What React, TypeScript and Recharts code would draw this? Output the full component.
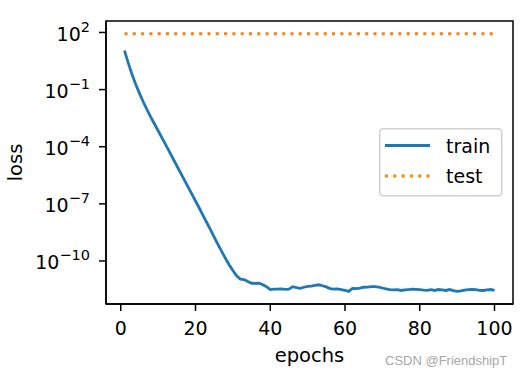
import React from "react";
import { LineChart, Line, XAxis, YAxis, Legend, ReferenceArea, Label } from "recharts";

const epochs = [
  1, 2, 3, 4, 5, 6, 7, 8, 9, 10, 11, 12, 13, 14, 15, 16, 17, 18, 19, 20,
  21, 22, 23, 24, 25, 26, 27, 28, 29, 30, 31, 32, 33, 34, 35, 36, 37, 38, 39, 40,
  41, 42, 43, 44, 45, 46, 47, 48, 49, 50, 51, 52, 53, 54, 55, 56, 57, 58, 59, 60,
  61, 62, 63, 64, 65, 66, 67, 68, 69, 70, 71, 72, 73, 74, 75, 76, 77, 78, 79, 80,
  81, 82, 83, 84, 85, 86, 87, 88, 89, 90, 91, 92, 93, 94, 95, 96, 97, 98, 99, 100,
];

const trainLoss = [
  11.2, 2.51, 0.631, 0.191, 6.31e-2, 2.3e-2, 9.0e-3, 3.7e-3, 1.6e-3, 6.9e-4,
  3.0e-4, 1.29e-4, 5.5e-5, 2.34e-5, 1.0e-5, 4.27e-6, 1.82e-6, 7.76e-7, 3.31e-7, 1.41e-7,
  6.03e-8, 2.51e-8, 1.05e-8, 4.37e-9, 1.78e-9, 7.41e-10, 3.16e-10, 1.38e-10, 6.31e-11, 3.16e-11,
  1.66e-11, 1.12e-11, 1.05e-11, 8.32e-12, 6.76e-12, 6.61e-12, 6.76e-12, 5.62e-12, 4.47e-12, 3.16e-12,
  3.31e-12, 3.31e-12, 3.39e-12, 3.24e-12, 3.31e-12, 4.47e-12, 3.98e-12, 3.63e-12, 4.17e-12, 4.68e-12,
  4.79e-12, 5.25e-12, 5.62e-12, 5.01e-12, 4.37e-12, 3.55e-12, 3.31e-12, 3.39e-12, 3.16e-12, 2.82e-12,
  2.51e-12, 3.63e-12, 3.55e-12, 3.8e-12, 4.17e-12, 4.27e-12, 4.47e-12, 4.47e-12, 4.27e-12, 3.8e-12,
  3.39e-12, 3.16e-12, 3.02e-12, 3.09e-12, 2.82e-12, 3.02e-12, 3.16e-12, 3.31e-12, 3.24e-12, 3.16e-12,
  2.95e-12, 2.88e-12, 3.09e-12, 2.82e-12, 3.16e-12, 3.02e-12, 2.82e-12, 3.16e-12, 2.75e-12, 2.51e-12,
  2.69e-12, 2.95e-12, 3.16e-12, 3.24e-12, 3.09e-12, 2.88e-12, 2.82e-12, 3.02e-12, 3.16e-12, 2.82e-12,
];

const testLoss = [
  85.8, 85.8, 85.7, 85.7, 85.7, 85.6, 85.6, 85.6, 85.6, 85.6,
  85.6, 85.6, 85.6, 85.6, 85.6, 85.6, 85.6, 85.6, 85.6, 85.6,
  85.6, 85.6, 85.6, 85.6, 85.6, 85.6, 85.6, 85.6, 85.6, 85.6,
  85.6, 85.6, 85.6, 85.6, 85.6, 85.6, 85.6, 85.6, 85.6, 85.6,
  85.6, 85.6, 85.6, 85.6, 85.6, 85.6, 85.6, 85.6, 85.6, 85.6,
  85.6, 85.6, 85.6, 85.6, 85.6, 85.6, 85.6, 85.6, 85.6, 85.6,
  85.6, 85.6, 85.6, 85.6, 85.6, 85.6, 85.6, 85.6, 85.6, 85.6,
  85.6, 85.6, 85.6, 85.6, 85.6, 85.6, 85.6, 85.6, 85.6, 85.6,
  85.6, 85.6, 85.6, 85.6, 85.6, 85.6, 85.6, 85.6, 85.6, 85.6,
  85.6, 85.6, 85.6, 85.6, 85.6, 85.6, 85.6, 85.6, 85.6, 85.6,
];

const xTicks = [0, 20, 40, 60, 80, 100];
const yTicks = [1e2, 1e-1, 1e-4, 1e-7, 1e-10];
const xDomain = [-3.95, 104.95];
const yDomain = [5.5e-13, 400];

const data = epochs.map((e, i) => ({ epoch: e, train: trainLoss[i], test: testLoss[i] }));

const FONT = "DejaVu Sans";
const BLUE = "#1f77b4";
const ORANGE = "#ff7f0e";

const XTick = (props: any) => {
  const { x, y, payload } = props;
  return (
    <text x={x} y={y} dy={20} textAnchor="middle" fontFamily={FONT} fontSize={19} fill="#000">
      {payload.value}
    </text>
  );
};

const YTick = (props: any) => {
  const { x, y, payload } = props;
  const exp = Math.round(Math.log10(payload.value));
  const expStr = exp < 0 ? "\u2212" + Math.abs(exp) : String(exp);
  return (
    <text x={x} y={y} dy={8.5} textAnchor="end" fontFamily={FONT} fontSize={19} fill="#000">
      <tspan>10</tspan>
      <tspan dy={-9} fontSize={14.5}>{expStr}</tspan>
    </text>
  );
};

const LegendBox = () => (
  <svg width={124} height={70} style={{ display: "block" }}>
    <rect x={0.75} y={0.75} width={122} height={67} rx={3.5} ry={3.5} fill="rgba(255,255,255,0.8)" stroke="#d0d0d0" strokeWidth={1.5} />
    <line x1={6} x2={51} y1={17.5} y2={17.5} stroke={BLUE} strokeWidth={2.8} />
    <text x={67} y={25} fontFamily={FONT} fontSize={19} fill="#000">train</text>
    <line x1={6} x2={51} y1={48} y2={48} stroke={ORANGE} strokeWidth={2.8} strokeDasharray="3 5.3" />
    <text x={67} y={55} fontFamily={FONT} fontSize={19} fill="#000">test</text>
  </svg>
);

export default function App() {
  return (
    <div style={{ position: "absolute", left: 0, top: 0, width: 522, height: 378, background: "#fff" }}>
      <LineChart width={522} height={378} data={data} margin={{ top: 21, right: 9, bottom: 0, left: 0 }}>
        <ReferenceArea
          x1={xDomain[0]}
          x2={xDomain[1]}
          y1={yDomain[0]}
          y2={yDomain[1]}
          fill="none"
          fillOpacity={0}
          stroke="#000"
          strokeWidth={1.5}
          ifOverflow="visible"
        />
        <XAxis
          type="number"
          dataKey="epoch"
          domain={xDomain}
          ticks={xTicks}
          allowDataOverflow
          height={74}
          tickSize={7}
          tickMargin={4}
          axisLine={{ stroke: "#000", strokeWidth: 1.5 }}
          tickLine={{ stroke: "#000", strokeWidth: 1.5 }}
          tick={<XTick />}
          interval={0}
        >
          <Label
            value="epochs"
            position="insideBottom"
            offset={0}
            content={(p: any) => {
              const vb = p.viewBox;
              return (
                <text x={vb.x + vb.width / 2} y={362} textAnchor="middle" fontFamily={FONT} fontSize={19.5} fill="#000">
                  epochs
                </text>
              );
            }}
          />
        </XAxis>
        <YAxis
          type="number"
          scale="log"
          domain={yDomain}
          ticks={yTicks}
          allowDataOverflow
          width={106}
          tickSize={7}
          tickMargin={9}
          axisLine={{ stroke: "#000", strokeWidth: 1.5 }}
          tickLine={{ stroke: "#000", strokeWidth: 1.5 }}
          tick={<YTick />}
          interval={0}
        >
          <Label
            value="loss"
            content={(p: any) => {
              const vb = p.viewBox;
              const cy = vb.y + vb.height / 2;
              return (
                <text
                  x={21.5}
                  y={cy}
                  transform={`rotate(-90 21.5 ${cy})`}
                  textAnchor="middle"
                  fontFamily={FONT}
                  fontSize={19.5}
                  fill="#000"
                >
                  loss
                </text>
              );
            }}
          />
        </YAxis>
        <Line
          type="linear"
          dataKey="train"
          stroke={BLUE}
          strokeWidth={2.8}
          dot={false}
          activeDot={false}
          isAnimationActive={false}
        />
        <Line
          type="linear"
          dataKey="test"
          stroke={ORANGE}
          strokeWidth={2.8}
          strokeDasharray="3 5.3"
          dot={false}
          activeDot={false}
          isAnimationActive={false}
        />
        <Legend
          layout="horizontal"
          verticalAlign="middle"
          align="center"
          wrapperStyle={{ left: 378.5, top: 128, width: 124, height: 70 }}
          content={() => <LegendBox />}
        />
      </LineChart>
      <div
        style={{
          position: "absolute",
          left: 385,
          top: 353,
          fontFamily: "Liberation Sans",
          fontSize: 13,
          color: "#a6a6a6",
          whiteSpace: "nowrap",
          lineHeight: "15px",
        }}
      >
        CSDN @FriendshipT
      </div>
    </div>
  );
}
